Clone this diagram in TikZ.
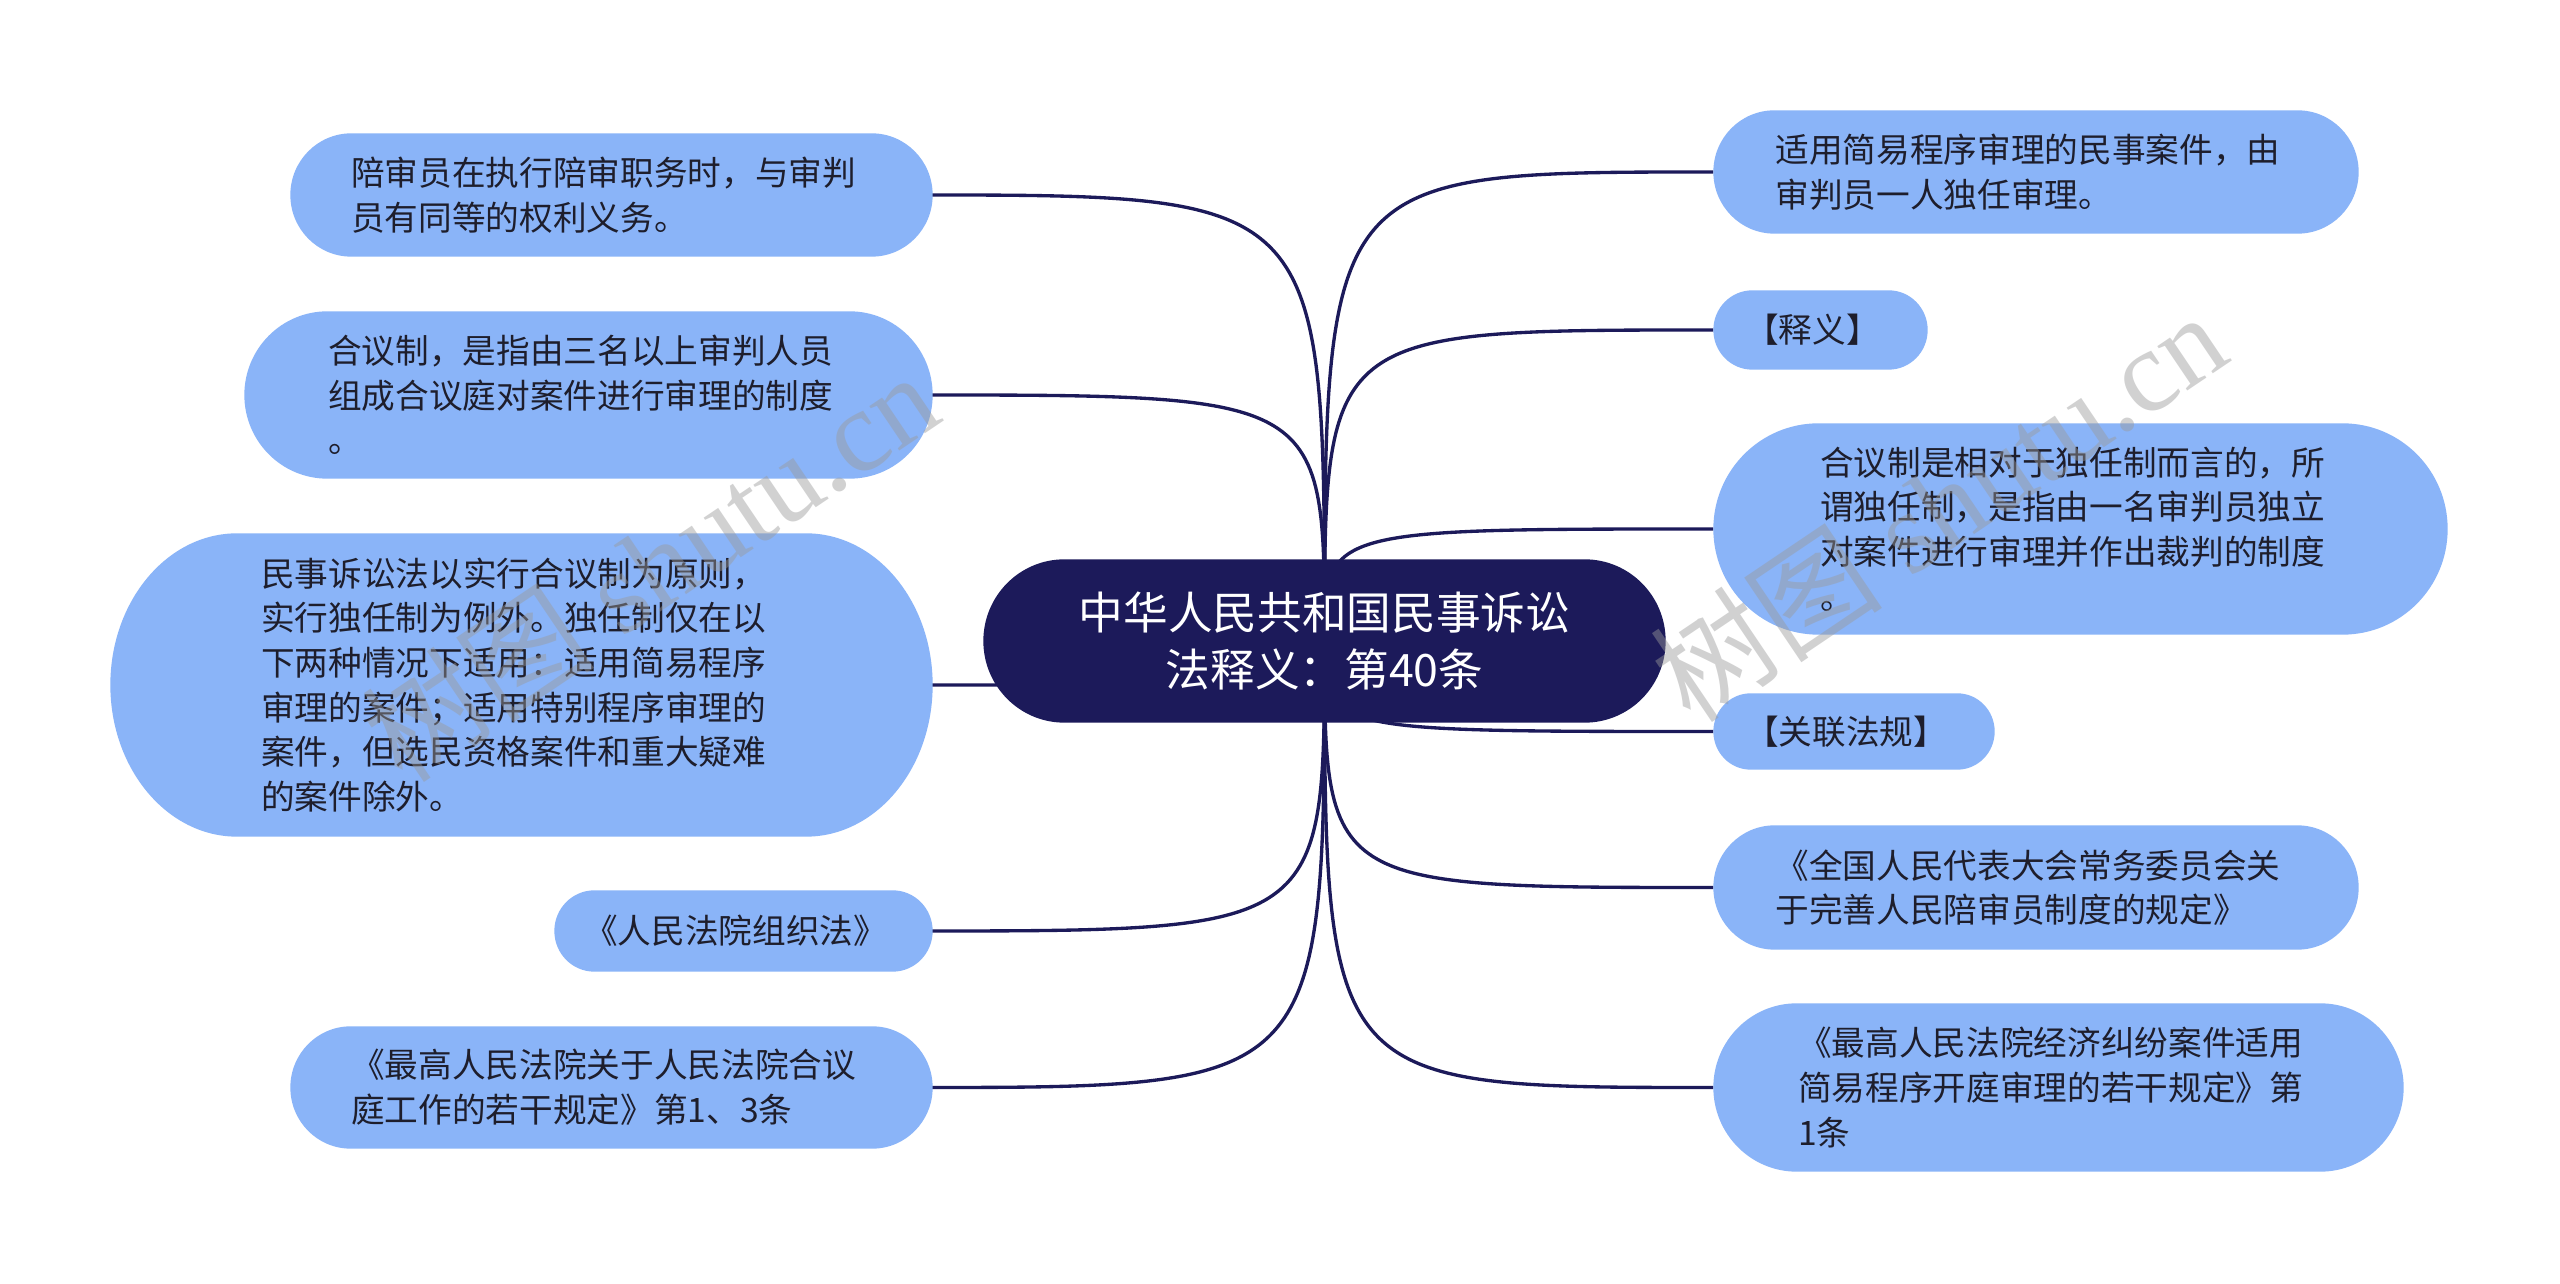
\documentclass[tikz,border=0pt]{standalone}
\usepackage{fontspec}
\setmainfont{Liberation Serif}
\newfontfamily\cjkfont{Noto Sans CJK SC}
\usetikzlibrary{calc}
\pgfdeclarelayer{edgelayer}
\pgfdeclarelayer{shapelayer}
\pgfdeclarelayer{marklayer}
\pgfsetlayers{edgelayer,shapelayer,main,marklayer}
\definecolor{rootnavy}{HTML}{1C1A5A}
\definecolor{leafblue}{HTML}{8AB4F8}
\definecolor{leafink}{HTML}{1E1E2C}
\definecolor{markgray}{HTML}{9A9A9A}
\tikzset{
  rootnode/.style={text=white, font=\cjkfont\fontsize{13.4pt}{17.1pt}\selectfont, align=center, inner sep=0pt},
  leafnode/.style={text=leafink, font=\cjkfont\fontsize{10.1pt}{13.4pt}\selectfont, align=left, inner sep=0pt},
  link/.style={draw=rootnavy, line width=1pt},
  markstyle/.style={text=markgray, opacity=0.45, rotate=34, inner sep=0pt, font=\fontsize{35pt}{40pt}\selectfont},
}
% #1 colour, #2 node, #3 end radius (pt), #4 extra length on the right (pt)
\newcommand\pillshape[4]{%
  \fill[#1] let \p1=(#2.south west), \p2=(#2.north east), \n1={0.5*(\y2-\y1)} in
    (\x1+#3pt,\y1) -- (\x2+#4pt-#3pt,\y1)
    arc[start angle=-90, end angle=90, x radius=#3pt, y radius=\n1]
    -- (\x1+#3pt,\y2)
    arc[start angle=90, end angle=270, x radius=#3pt, y radius=\n1] -- cycle;}
\begin{document}
\begin{tikzpicture}[x=0.3pt, y=-0.3pt]
\useasboundingbox (0,0) rectangle (2560,1284);
\begin{pgfonlayer}{edgelayer}
\fill[white] (0,0) rectangle (2560,1284);
\end{pgfonlayer}

\node[rootnode, minimum width=204.3pt, minimum height=48.6pt] (root) at (1324.5,641) {中华人民共和国民事诉讼\\法释义：第40条};

\node[leafnode, minimum width=187.5pt, minimum height=36.6pt] (l1) at (603.5,195) {陪审员在执行陪审职务时，与审判\\员有同等的权利义务。};
\node[leafnode, minimum width=201.3pt, minimum height=49.8pt] (l2) at (580.5,395) {合议制，是指由三名以上审判人员\\组成合议庭对案件进行审理的制度\\。};
\node[leafnode, minimum width=241.5pt, minimum height=90.6pt] (l3) at (513.5,685) {民事诉讼法以实行合议制为原则，\\实行独任制为例外。独任制仅在以\\下两种情况下适用：适用简易程序\\审理的案件；适用特别程序审理的\\案件，但选民资格案件和重大疑难\\的案件除外。};
\node[leafnode, minimum width=108.3pt, minimum height=24pt] (l4) at (735.5,931) {《人民法院组织法》};
\node[leafnode, minimum width=187.5pt, minimum height=36.3pt] (l5) at (603.5,1087.5) {《最高人民法院关于人民法院合议\\庭工作的若干规定》第1、3条};

\node[leafnode, minimum width=188.4pt, minimum height=36.6pt] (r1) at (2028,172) {适用简易程序审理的民事案件，由\\审判员一人独任审理。};
\node[leafnode, minimum width=59.1pt, minimum height=23.4pt] (r2) at (1812.5,330) {【释义】};
\node[leafnode, minimum width=215.1pt, minimum height=63pt] (r3) at (2072.5,529) {合议制是相对于独任制而言的，所\\谓独任制，是指由一名审判员独立\\对案件进行审理并作出裁判的制度\\。};
\node[leafnode, minimum width=79.2pt, minimum height=22.5pt] (r4) at (1846,731.5) {【关联法规】};
\node[leafnode, minimum width=188.4pt, minimum height=36.9pt] (r5) at (2028,887.5) {《全国人民代表大会常务委员会关\\于完善人民陪审员制度的规定》};
\node[leafnode, minimum width=201.9pt, minimum height=50.1pt] (r6) at (2050.5,1087.5) {《最高人民法院经济纠纷案件适用\\简易程序开庭审理的若干规定》第\\1条};

\begin{pgfonlayer}{shapelayer}
\pillshape{rootnavy}{root}{24.3}{0}
\pillshape{leafblue}{l1}{18.3}{4.8}
\pillshape{leafblue}{l2}{24.9}{4.8}
\pillshape{leafblue}{l3}{38}{4.8}
\pillshape{leafblue}{l4}{12}{4.8}
\pillshape{leafblue}{l5}{18.1}{4.8}
\pillshape{leafblue}{r1}{18.3}{4.8}
\pillshape{leafblue}{r2}{11.7}{4.8}
\pillshape{leafblue}{r3}{31.5}{4.8}
\pillshape{leafblue}{r4}{11.2}{4.8}
\pillshape{leafblue}{r5}{18.4}{4.8}
\pillshape{leafblue}{r6}{25}{4.8}
\end{pgfonlayer}

\begin{pgfonlayer}{edgelayer}
\foreach \t in {l1,l2,l3,l4,l5}
  \draw[link] (root.center) .. controls (root.center |- \t.east) .. (\t.east);
\foreach \t in {r1,r2,r3,r4,r5,r6}
  \draw[link] (root.center) .. controls (root.center |- \t.west) .. (\t.west);
\end{pgfonlayer}

\begin{pgfonlayer}{marklayer}
\node[markstyle] (mark1) at (650,566) {{\cjkfont 树图} shutu.cn};
\node[markstyle] (mark2) at (1938,506) {{\cjkfont 树图} shutu.cn};
\end{pgfonlayer}
\end{tikzpicture}
\end{document}
